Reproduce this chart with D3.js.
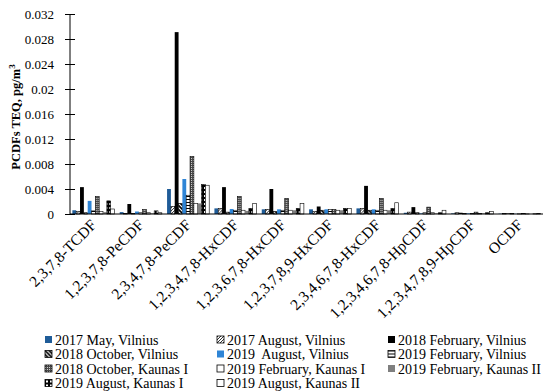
<!DOCTYPE html>
<html>
<head>
<meta charset="utf-8">
<script src="https://cdn.jsdelivr.net/npm/d3@7"></script>
<style>
  body { margin: 0; background: #fff; }
  text { font-family: "Liberation Serif", "Times New Roman", serif; }
</style>
</head>
<body>
<div id="chart"></div>
<script>
// categories on the x axis
var categories = ["2,3,7,8-TCDF", "1,2,3,7,8-PeCDF", "2,3,4,7,8-PeCDF", "1,2,3,4,7,8-HxCDF",
    "1,2,3,6,7,8-HxCDF", "1,2,3,7,8,9-HxCDF", "2,3,4,6,7,8-HxCDF", "1,2,3,4,6,7,8-HpCDF",
    "1,2,3,4,7,8,9-HpCDF", "OCDF"];

// series names (legend order)
var seriesNames = ["2017 May, Vilnius", "2017 August, Vilnius", "2018 February, Vilnius",
    "2018 October, Vilnius", "2019  August, Vilnius", "2019 February, Vilnius",
    "2018 October, Kaunas I", "2019 February, Kaunas I", "2019 February, Kaunas II",
    "2019 August, Kaunas I", "2019 August, Kaunas II"];

// values per series, one per category (pg/m3)
var may2017V   = [0.0006, 0.0003, 0.0040, 0.0009, 0.00075, 0.00075, 0.0009, 0.0002, 0.0001, 0.00005];
var aug2017V   = [0.0004, 0.0001, 0.0012, 0.0009, 0.00075, 0.0004, 0.0009, 0.0003, 0.0002, 0.00005];
var feb2018V   = [0.0043, 0.0016, 0.0291, 0.0043, 0.0040, 0.0012, 0.0045, 0.0011, 0.0002, 0.0001];
var oct2018V   = [0.0002, 0.0001, 0.0017, 0.0003, 0.0004, 0.0006, 0.0006, 0.0002, 0.0001, 0.00005];
var aug2019V   = [0.0021, 0.0004, 0.0056, 0.0008, 0.00075, 0.00075, 0.00075, 0.0001, 0.0001, 0.00003];
var feb2019V   = [0.0005, 0.0002, 0.0030, 0.0006, 0.0006, 0.0007, 0.0006, 0.0002, 0.0001, 0.00003];
var oct2018K1  = [0.0028, 0.0007, 0.0092, 0.0028, 0.0025, 0.0007, 0.0025, 0.0011, 0.0003, 0.0001];
var feb2019K1  = [0.0004, 0.0002, 0.0017, 0.0006, 0.0006, 0.0006, 0.0006, 0.0002, 0.0001, 0.00002];
var feb2019K2  = [0.0003, 0.0001, 0.0017, 0.0005, 0.0006, 0.0006, 0.0006, 0.0001, 0.0001, 0.00002];
var aug2019K1  = [0.0021, 0.0005, 0.0047, 0.0009, 0.0009, 0.0009, 0.0009, 0.0002, 0.0002, 0.00003];
var aug2019K2  = [0.0008, 0.0002, 0.0046, 0.0017, 0.0017, 0.0009, 0.0018, 0.0006, 0.0004, 0.00005];

var seriesValues = [may2017V, aug2017V, feb2018V, oct2018V, aug2019V, feb2019V,
    oct2018K1, feb2019K1, feb2019K2, aug2019K1, aug2019K2];

// y tick values
var yTicks = [0, 0.004, 0.008, 0.012, 0.016, 0.02, 0.024, 0.028, 0.032];

// fills for each series (solid colours or pattern ids)
var fills = ["#1f5c98", "url(#p-diag)", "#000000", "url(#p-tri)", "#2f85d6", "url(#p-hline)",
    "url(#p-dots)", "#ffffff", "#7f7f7f", "url(#p-ladder)", "#ffffff"];
var outlined = [false, true, false, true, false, true, true, true, false, true, true];

var margin = { top: 14, right: 7, bottom: 178, left: 70 };
var totalW = 550, totalH = 392;
var width = totalW - margin.left - margin.right;
var height = totalH - margin.top - margin.bottom;

var svg = d3.select("#chart").append("svg")
    .attr("width", totalW)
    .attr("height", totalH);

// patterns
var defs = svg.append("defs");

var pDiag = defs.append("pattern").attr("id", "p-diag")
    .attr("patternUnits", "userSpaceOnUse").attr("width", 3).attr("height", 3);
pDiag.append("rect").attr("width", 3).attr("height", 3).attr("fill", "#fff");
pDiag.append("path").attr("d", "M0,3 L3,0 M-1,1 L1,-1 M2,4 L4,2")
    .attr("stroke", "#000").attr("stroke-width", 0.8);

var pTri = defs.append("pattern").attr("id", "p-tri")
    .attr("patternUnits", "userSpaceOnUse").attr("width", 4).attr("height", 4);
pTri.append("rect").attr("width", 4).attr("height", 4).attr("fill", "#fff");
pTri.append("path").attr("d", "M0,0 L4,4 M-1,3 L1,5 M3,-1 L5,1")
    .attr("stroke", "#000").attr("stroke-width", 1.6);

var pH = defs.append("pattern").attr("id", "p-hline")
    .attr("patternUnits", "userSpaceOnUse").attr("width", 3).attr("height", 3);
pH.append("rect").attr("width", 3).attr("height", 3).attr("fill", "#fff");
pH.append("rect").attr("y", 2).attr("width", 3).attr("height", 1).attr("fill", "#000");

var pDots = defs.append("pattern").attr("id", "p-dots")
    .attr("patternUnits", "userSpaceOnUse").attr("width", 2).attr("height", 2);
pDots.append("rect").attr("width", 2).attr("height", 2).attr("fill", "#4a4a4a");
pDots.append("rect").attr("width", 1).attr("height", 1).attr("fill", "#d0d0d0");

var pLad = defs.append("pattern").attr("id", "p-ladder")
    .attr("patternUnits", "userSpaceOnUse").attr("width", 4).attr("height", 4);
pLad.append("rect").attr("width", 4).attr("height", 4).attr("fill", "#000");
pLad.append("rect").attr("x", 1).attr("y", 1).attr("width", 2).attr("height", 2).attr("fill", "#fff");

var g = svg.append("g")
    .attr("transform", "translate(" + margin.left + "," + margin.top + ")");

// scales
var x0 = d3.scaleBand()
    .domain(categories)
    .range([0, width])
    .paddingInner(0.11)
    .paddingOuter(0.05);

var x1 = d3.scaleBand()
    .domain(d3.range(seriesNames.length))
    .range([0, x0.bandwidth()]);

var y = d3.scaleLinear()
    .domain([0, 0.032])
    .range([height, 0]);

// bars
var groups = g.selectAll(".grp")
    .data(categories)
    .enter().append("g")
    .attr("class", "grp")
    .attr("transform", function(d) { return "translate(" + x0(d) + ",0)"; });

groups.selectAll("rect")
    .data(function(d, ci) {
        return seriesValues.map(function(vals, si) { return { s: si, v: vals[ci] }; });
    })
    .enter().append("rect")
    .attr("x", function(d) { return x1(d.s); })
    .attr("width", x1.bandwidth())
    .attr("y", function(d) { return y(d.v); })
    .attr("height", function(d) { return height - y(d.v); })
    .attr("fill", function(d) { return fills[d.s]; })
    .attr("stroke", function(d) { return outlined[d.s] ? "#000" : "none"; })
    .attr("stroke-width", 0.6);

// y axis
var yAxis = d3.axisLeft(y)
    .tickValues(yTicks)
    .tickSize(5)
    .tickPadding(11)
    .tickFormat(function(d) { return d === 0 ? "0" : String(+d.toFixed(3)); });

var yG = g.append("g").call(yAxis);
yG.select(".domain").remove();
yG.selectAll(".tick line").attr("x1", 5).attr("x2", -5).attr("stroke", "#000");
yG.selectAll("text")
    .style("font-size", "13px")
    .attr("fill", "#000");

g.append("line")
    .attr("x1", 0).attr("x2", 0)
    .attr("y1", 0).attr("y2", height)
    .attr("stroke", "#000");

// x axis line
g.append("line")
    .attr("x1", 0).attr("x2", width)
    .attr("y1", height).attr("y2", height)
    .attr("stroke", "#000");

// x labels, rotated
g.selectAll(".x-label")
    .data(categories)
    .enter().append("text")
    .attr("class", "x-label")
    .attr("text-anchor", "end")
    .style("font-size", "15.5px")
    .attr("transform", function(d) {
        return "translate(" + (x0(d) + x0.bandwidth() / 2 + 4) + "," + (height + 12) + ") rotate(-45)";
    })
    .text(function(d) { return d; });

// y title
svg.append("text")
    .attr("transform", "translate(20," + (margin.top + height / 2 + 3) + ") rotate(-90)")
    .attr("text-anchor", "middle")
    .style("font-size", "12.5px")
    .style("font-weight", "bold")
    .text("PCDFs TEQ, pg/m")
    .append("tspan")
    .attr("dy", -5)
    .style("font-size", "9px")
    .text("3");

// legend: 3 columns, filled row by row
var legendCols = [45, 217, 388];
var legendRows = [340, 354.5, 369, 383.5];

var leg = svg.selectAll(".legend")
    .data(seriesNames)
    .enter().append("g")
    .attr("class", "legend")
    .attr("transform", function(d, i) {
        return "translate(" + legendCols[i % 3] + "," + legendRows[Math.floor(i / 3)] + ")";
    });

leg.append("rect")
    .attr("x", 0).attr("y", -4)
    .attr("width", 7).attr("height", 7)
    .attr("fill", function(d, i) { return fills[i]; })
    .attr("stroke", function(d, i) { return outlined[i] ? "#000" : "none"; })
    .attr("stroke-width", 0.8);

leg.append("text")
    .attr("x", 10)
    .attr("y", 4.5)
    .style("font-size", "14px")
    .style("white-space", "pre")
    .text(function(d) { return d; });
</script>
</body>
</html>
